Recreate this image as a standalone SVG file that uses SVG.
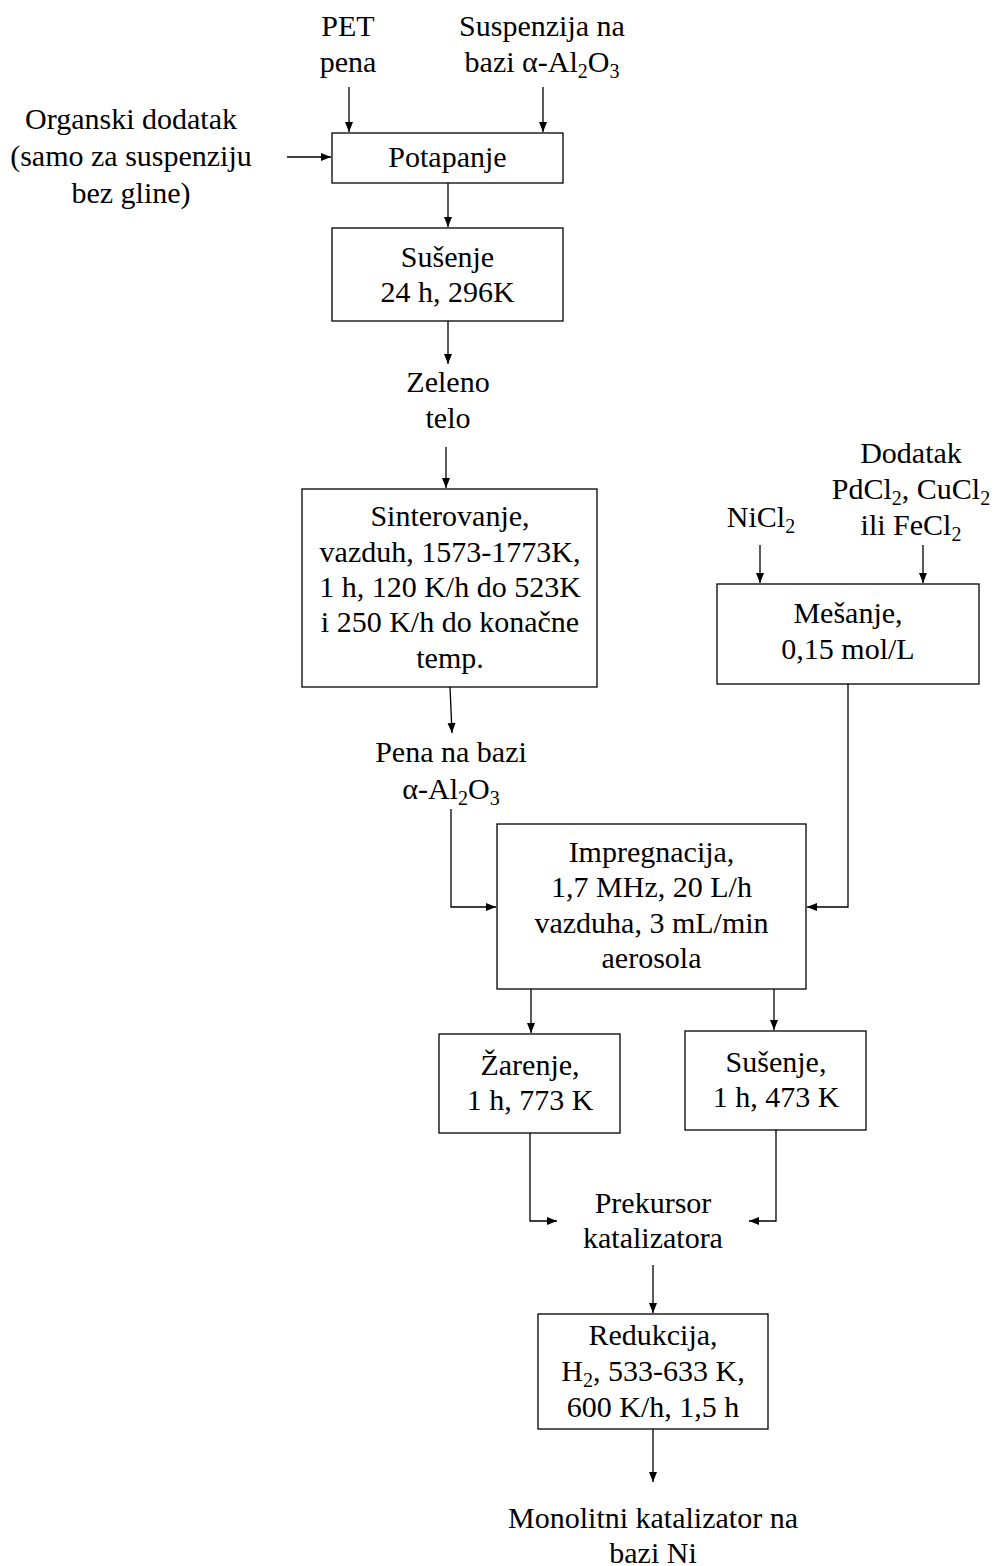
<svg xmlns="http://www.w3.org/2000/svg" width="995" height="1566" viewBox="0 0 995 1566">
<style>
text{font-family:"Liberation Serif","Times New Roman",serif;font-size:30px;fill:#000;text-anchor:middle}
.sub{font-size:20px}
.box{fill:#fff;stroke:#000;stroke-width:1.3}
.ln{fill:none;stroke:#000;stroke-width:1.3;marker-end:url(#ah)}
.pl{fill:none;stroke:#000;stroke-width:1.3}
</style>
<defs>
<marker id="ah" markerUnits="userSpaceOnUse" markerWidth="12" markerHeight="10" viewBox="0 0 12 10" refX="11" refY="5" orient="auto">
<path d="M1,1 L11,5 L1,9 Z" fill="#000"/>
</marker>
</defs>
<rect width="995" height="1566" fill="#fff"/>

<g id="connectors">
<line class="ln" x1="349" y1="87" x2="349" y2="132"/>
<line class="ln" x1="543" y1="87" x2="543" y2="132"/>
<line class="ln" x1="287" y1="157" x2="331" y2="157"/>
<line class="ln" x1="448" y1="183" x2="448" y2="227"/>
<line class="ln" x1="448" y1="321" x2="448" y2="364"/>
<line class="ln" x1="446" y1="447" x2="446" y2="488"/>
<line class="ln" x1="450" y1="687" x2="452" y2="733"/>
<polyline class="ln" points="451,809 451,907 496,907"/>
<line class="ln" x1="760" y1="545" x2="760" y2="583"/>
<line class="ln" x1="923" y1="545" x2="923" y2="583"/>
<polyline class="ln" points="848,684 848,907 807,907"/>
<line class="ln" x1="531" y1="989" x2="531" y2="1033"/>
<line class="ln" x1="774" y1="989" x2="774" y2="1030"/>
<polyline class="ln" points="530,1133 530,1221 557,1221"/>
<polyline class="ln" points="776,1130 776,1221 749,1221"/>
<line class="ln" x1="653" y1="1265" x2="653" y2="1313"/>
<line class="ln" x1="653" y1="1429" x2="653" y2="1482"/>
</g>

<g id="pet">
<text x="348" y="36">PET</text>
<text x="348" y="72">pena</text>
</g>
<g id="suspenzija">
<text x="542" y="36">Suspenzija na</text>
<text x="542" y="72">bazi α-Al<tspan class="sub" dy="6">2</tspan><tspan dy="-6">O</tspan><tspan class="sub" dy="6">3</tspan></text>
</g>
<g id="organski">
<text x="131" y="129">Organski dodatak</text>
<text x="131" y="166">(samo za suspenziju</text>
<text x="131" y="203">bez gline)</text>
</g>
<g id="potapanje">
<rect class="box" x="332" y="133" width="231" height="50"/>
<text x="447.5" y="167">Potapanje</text>
</g>
<g id="susenje1">
<rect class="box" x="332" y="228" width="231" height="93"/>
<text x="447.5" y="267">Sušenje</text>
<text x="447.5" y="302">24 h, 296K</text>
</g>
<g id="zeleno">
<text x="448" y="392">Zeleno</text>
<text x="448" y="428">telo</text>
</g>
<g id="sinterovanje">
<rect class="box" x="302" y="489" width="295" height="198"/>
<text x="450" y="526">Sinterovanje,</text>
<text x="450" y="562">vazduh, 1573-1773K,</text>
<text x="450" y="597">1 h, 120 K/h do 523K</text>
<text x="450" y="632">i 250 K/h do konačne</text>
<text x="450" y="668">temp.</text>
</g>
<g id="pena">
<text x="451" y="762">Pena na bazi</text>
<text x="451" y="799">α-Al<tspan class="sub" dy="6">2</tspan><tspan dy="-6">O</tspan><tspan class="sub" dy="6">3</tspan></text>
</g>
<g id="nicl2">
<text x="761" y="527">NiCl<tspan class="sub" dy="6">2</tspan></text>
</g>
<g id="dodatak">
<text x="911" y="463">Dodatak</text>
<text x="911" y="499">PdCl<tspan class="sub" dy="6">2</tspan><tspan dy="-6">, CuCl</tspan><tspan class="sub" dy="6">2</tspan></text>
<text x="911" y="535">ili FeCl<tspan class="sub" dy="6">2</tspan></text>
</g>
<g id="mesanje">
<rect class="box" x="717" y="584" width="262" height="100"/>
<text x="848" y="623">Mešanje,</text>
<text x="848" y="659">0,15 mol/L</text>
</g>
<g id="impregnacija">
<rect class="box" x="497" y="824" width="309" height="165"/>
<text x="651.5" y="862">Impregnacija,</text>
<text x="651.5" y="897">1,7 MHz, 20 L/h</text>
<text x="651.5" y="933">vazduha, 3 mL/min</text>
<text x="651.5" y="968">aerosola</text>
</g>
<g id="zarenje">
<rect class="box" x="439" y="1034" width="181" height="99"/>
<text x="530" y="1075">Žarenje,</text>
<text x="530" y="1110">1 h, 773 K</text>
</g>
<g id="susenje2">
<rect class="box" x="685" y="1031" width="181" height="99"/>
<text x="776" y="1072">Sušenje,</text>
<text x="776" y="1107">1 h, 473 K</text>
</g>
<g id="prekursor">
<text x="653" y="1213">Prekursor</text>
<text x="653" y="1248">katalizatora</text>
</g>
<g id="redukcija">
<rect class="box" x="538" y="1314" width="230" height="115"/>
<text x="653" y="1345">Redukcija,</text>
<text x="653" y="1381">H<tspan class="sub" dy="6">2</tspan><tspan dy="-6">, 533-633 K,</tspan></text>
<text x="653" y="1417">600 K/h, 1,5 h</text>
</g>
<g id="monolitni">
<text x="653" y="1528">Monolitni katalizator na</text>
<text x="653" y="1563">bazi Ni</text>
</g>
</svg>
